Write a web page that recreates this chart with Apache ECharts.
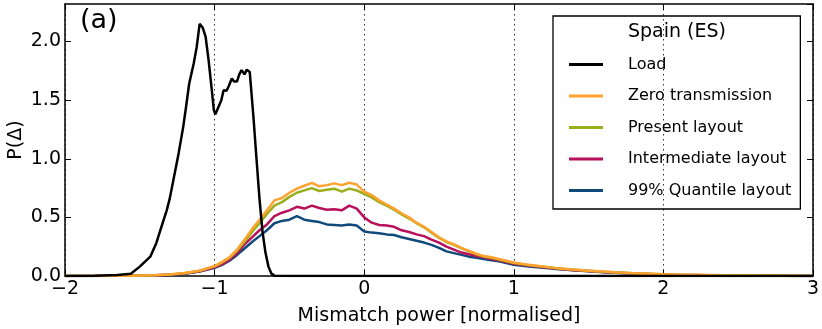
<!DOCTYPE html>
<html>
<head>
<meta charset="utf-8">
<script src="https://cdn.jsdelivr.net/npm/echarts@6/dist/echarts.min.js"></script>
<style>
  html, body { margin: 0; padding: 0; background: #fff; }
  #chart { width: 822px; height: 329px; }
</style>
</head>
<body>
<div id="chart"></div>
<script>
// load curve (own x grid)
let loadX = [-2.0, -1.8, -1.65, -1.56, -1.5, -1.43, -1.39, -1.34, -1.32, -1.3, -1.275, -1.24, -1.21, -1.19, -1.17, -1.14, -1.12, -1.1, -1.08, -1.06, -1.04, -1.02, -1.005, -0.995, -0.975, -0.955, -0.94, -0.92, -0.905, -0.885, -0.87, -0.85, -0.835, -0.82, -0.8, -0.785, -0.765, -0.74, -0.72, -0.7, -0.68, -0.66, -0.64, -0.62, -0.6, -0.5, 0.0, 3.0]
let loadY = [0, 0.002, 0.008, 0.02, 0.08, 0.165, 0.28, 0.48, 0.56, 0.66, 0.82, 1.05, 1.27, 1.45, 1.64, 1.81, 1.95, 2.15, 2.12, 2.04, 1.84, 1.6, 1.415, 1.38, 1.44, 1.5, 1.585, 1.58, 1.62, 1.685, 1.66, 1.66, 1.72, 1.756, 1.72, 1.76, 1.74, 1.35, 1.0, 0.66, 0.38, 0.2, 0.08, 0.02, 0.003, 0, 0, 0]

// mismatch curves share this x grid
let mismatchX = [-2.0, -1.6, -1.4, -1.3, -1.2, -1.1, -1.0,
  -0.95, -0.9, -0.85, -0.8, -0.75, -0.7, -0.65, -0.6, -0.55, -0.5,
  -0.45, -0.4, -0.35, -0.3, -0.25, -0.2, -0.15, -0.1, -0.05, 0.0,
  0.05, 0.1, 0.15, 0.2, 0.25, 0.3, 0.35, 0.4, 0.45, 0.5,
  0.55, 0.6, 0.65, 0.7, 0.75, 0.8, 0.85, 0.9, 0.95, 1.0,
  1.1, 1.2, 1.3, 1.4, 1.5, 1.6, 1.7, 1.8, 1.9, 2.0,
  2.1, 2.2, 2.3, 2.4, 2.5, 2.6, 2.7, 2.8, 2.9, 3.0]
let zeroTrans = [0, 0.002, 0.006, 0.012, 0.025, 0.045, 0.085,
  0.12, 0.16, 0.225, 0.31, 0.4, 0.48, 0.56, 0.645, 0.665, 0.71,
  0.745, 0.77, 0.795, 0.765, 0.775, 0.79, 0.775, 0.795, 0.78, 0.72,
  0.69, 0.645, 0.61, 0.575, 0.535, 0.5, 0.455, 0.42, 0.375, 0.33,
  0.295, 0.27, 0.24, 0.215, 0.19, 0.17, 0.16, 0.145, 0.13, 0.115,
  0.095, 0.08, 0.065, 0.055, 0.045, 0.038, 0.03, 0.024, 0.02, 0.015,
  0.012, 0.01, 0.008, 0.006, 0.005, 0.004, 0.003, 0.002, 0.002, 0.001]
let present = [0, 0.002, 0.006, 0.012, 0.024, 0.044, 0.082,
  0.115, 0.155, 0.215, 0.29, 0.375, 0.45, 0.53, 0.6, 0.63, 0.675,
  0.71, 0.73, 0.75, 0.725, 0.735, 0.745, 0.72, 0.745, 0.73, 0.7,
  0.67, 0.63, 0.6, 0.565, 0.525, 0.49, 0.45, 0.415, 0.37, 0.325,
  0.29, 0.265, 0.235, 0.21, 0.185, 0.165, 0.155, 0.14, 0.125, 0.11,
  0.092, 0.078, 0.063, 0.053, 0.044, 0.036, 0.029, 0.023, 0.019, 0.014,
  0.011, 0.009, 0.007, 0.006, 0.005, 0.004, 0.003, 0.002, 0.002, 0.001]
let intermediate = [0, 0.002, 0.006, 0.011, 0.022, 0.04, 0.075,
  0.1, 0.14, 0.195, 0.27, 0.33, 0.39, 0.44, 0.51, 0.54, 0.56,
  0.59, 0.575, 0.6, 0.58, 0.565, 0.57, 0.56, 0.6, 0.575, 0.5,
  0.455, 0.435, 0.43, 0.42, 0.39, 0.375, 0.355, 0.34, 0.31, 0.285,
  0.25, 0.225, 0.2, 0.185, 0.17, 0.16, 0.145, 0.135, 0.12, 0.105,
  0.088, 0.074, 0.061, 0.05, 0.042, 0.034, 0.027, 0.021, 0.017, 0.013,
  0.01, 0.008, 0.006, 0.005, 0.004, 0.003, 0.002, 0.002, 0.001, 0.001]
let quantile = [0, 0.002, 0.005, 0.01, 0.02, 0.038, 0.07,
  0.095, 0.13, 0.18, 0.235, 0.29, 0.34, 0.39, 0.45, 0.47, 0.48,
  0.51, 0.48, 0.47, 0.46, 0.44, 0.435, 0.43, 0.44, 0.43, 0.38,
  0.37, 0.365, 0.355, 0.35, 0.33, 0.315, 0.3, 0.285, 0.265, 0.24,
  0.21, 0.195, 0.18, 0.165, 0.155, 0.145, 0.135, 0.125, 0.11, 0.095,
  0.08, 0.07, 0.058, 0.048, 0.04, 0.032, 0.026, 0.02, 0.015, 0.012,
  0.009, 0.007, 0.006, 0.005, 0.004, 0.003, 0.002, 0.002, 0.001, 0.001]

let xTicks = [-2, -1, 0, 1, 2, 3]
let yTicks = [0.0, 0.5, 1.0, 1.5, 2.0]

let seriesNames = ["Load", "Zero transmission", "Present layout", "Intermediate layout", "99% Quantile layout"]
let seriesColors = ["#000000", "#ffa22f", "#9aae1b", "#b8105a", "#104a7a"]

function pairs(xs, ys) {
    return xs.map(function (x, i) { return [x, ys[i]] })
}

let chart = echarts.init(document.getElementById("chart"), null, {renderer: "canvas"})
let font = "DejaVu Sans"

let lineSeries = [loadY, zeroTrans, present, intermediate, quantile].map(function (ys, i) {
    return {
        name: seriesNames[i],
        type: "line",
        data: pairs(i === 0 ? loadX : mismatchX, ys),
        showSymbol: false,
        symbol: "none",
        lineStyle: {width: 2.5, color: seriesColors[i]},
        itemStyle: {color: seriesColors[i]},
        z: 10 - i,
        animation: false
    }
})

function boxAxis(extra) {
    return Object.assign({
        type: "value",
        axisLine: {show: true, onZero: false, lineStyle: {color: "#000", width: 1.5}},
        axisTick: {show: true, inside: true, length: 6, lineStyle: {color: "#000"}},
        axisLabel: {show: false},
        splitLine: {show: false}
    }, extra)
}

let option = {
    animation: false,
    legend: {
        orient: "vertical",
        left: 553,
        top: 16,
        padding: [39, 9, 9, 16],
        borderColor: "#000",
        borderWidth: 1.3,
        borderRadius: 0,
        itemWidth: 34,
        itemHeight: 3,
        itemGap: 12.5,
        icon: "rect",
        selectedMode: false,
        textStyle: {fontFamily: font, fontSize: 16, color: "#000", padding: [0, 0, 0, 20], lineHeight: 19},
        data: seriesNames
    },
    graphic: [{
        type: "text",
        left: 80,
        top: 7,
        style: {text: "(a)", font: "27px DejaVu Sans", fill: "#000"}
    }, {
        type: "text",
        left: 628,
        top: 23,
        z: 100,
        style: {text: "Spain (ES)", font: "19px DejaVu Sans", fill: "#000"}
    }],
    grid: {left: 65, right: 9, top: 4, bottom: 53, show: false, outerBoundsMode: "none", containLabel: false},
    xAxis: [boxAxis({
        min: -2,
        max: 3,
        interval: 1,
        name: "Mismatch power [normalised]",
        nameLocation: "middle",
        nameGap: 31,
        nameTextStyle: {fontFamily: font, fontSize: 19, color: "#000"},
        axisLabel: {
            show: true, fontFamily: font, fontSize: 19, color: "#000", margin: 4,
            formatter: function (v) { return xTicks.indexOf(v) >= 0 ? String(v).replace("-", "\u2212") : "" }
        },
        splitLine: {show: true, lineStyle: {color: "#333", type: [1.5, 3.5], width: 1}}
    }), boxAxis({
        position: "top",
        min: -2,
        max: 3,
        interval: 1
    })],
    yAxis: [boxAxis({
        min: 0,
        max: 2.32,
        interval: 0.5,
        name: "P(\u0394)",
        nameLocation: "middle",
        nameGap: 39,
        nameMoveOverlap: false,
        nameTextStyle: {fontFamily: font, fontSize: 19, color: "#000"},
        axisLabel: {
            show: true, fontFamily: font, fontSize: 19, color: "#000", margin: 4, showMaxLabel: false,
            formatter: function (v) { return yTicks.indexOf(v) >= 0 ? v.toFixed(1) : "" }
        }
    }), boxAxis({
        position: "right",
        min: 0,
        max: 2.32,
        interval: 0.5
    })],
    series: lineSeries
}
chart.setOption(option)
</script>
</body>
</html>
